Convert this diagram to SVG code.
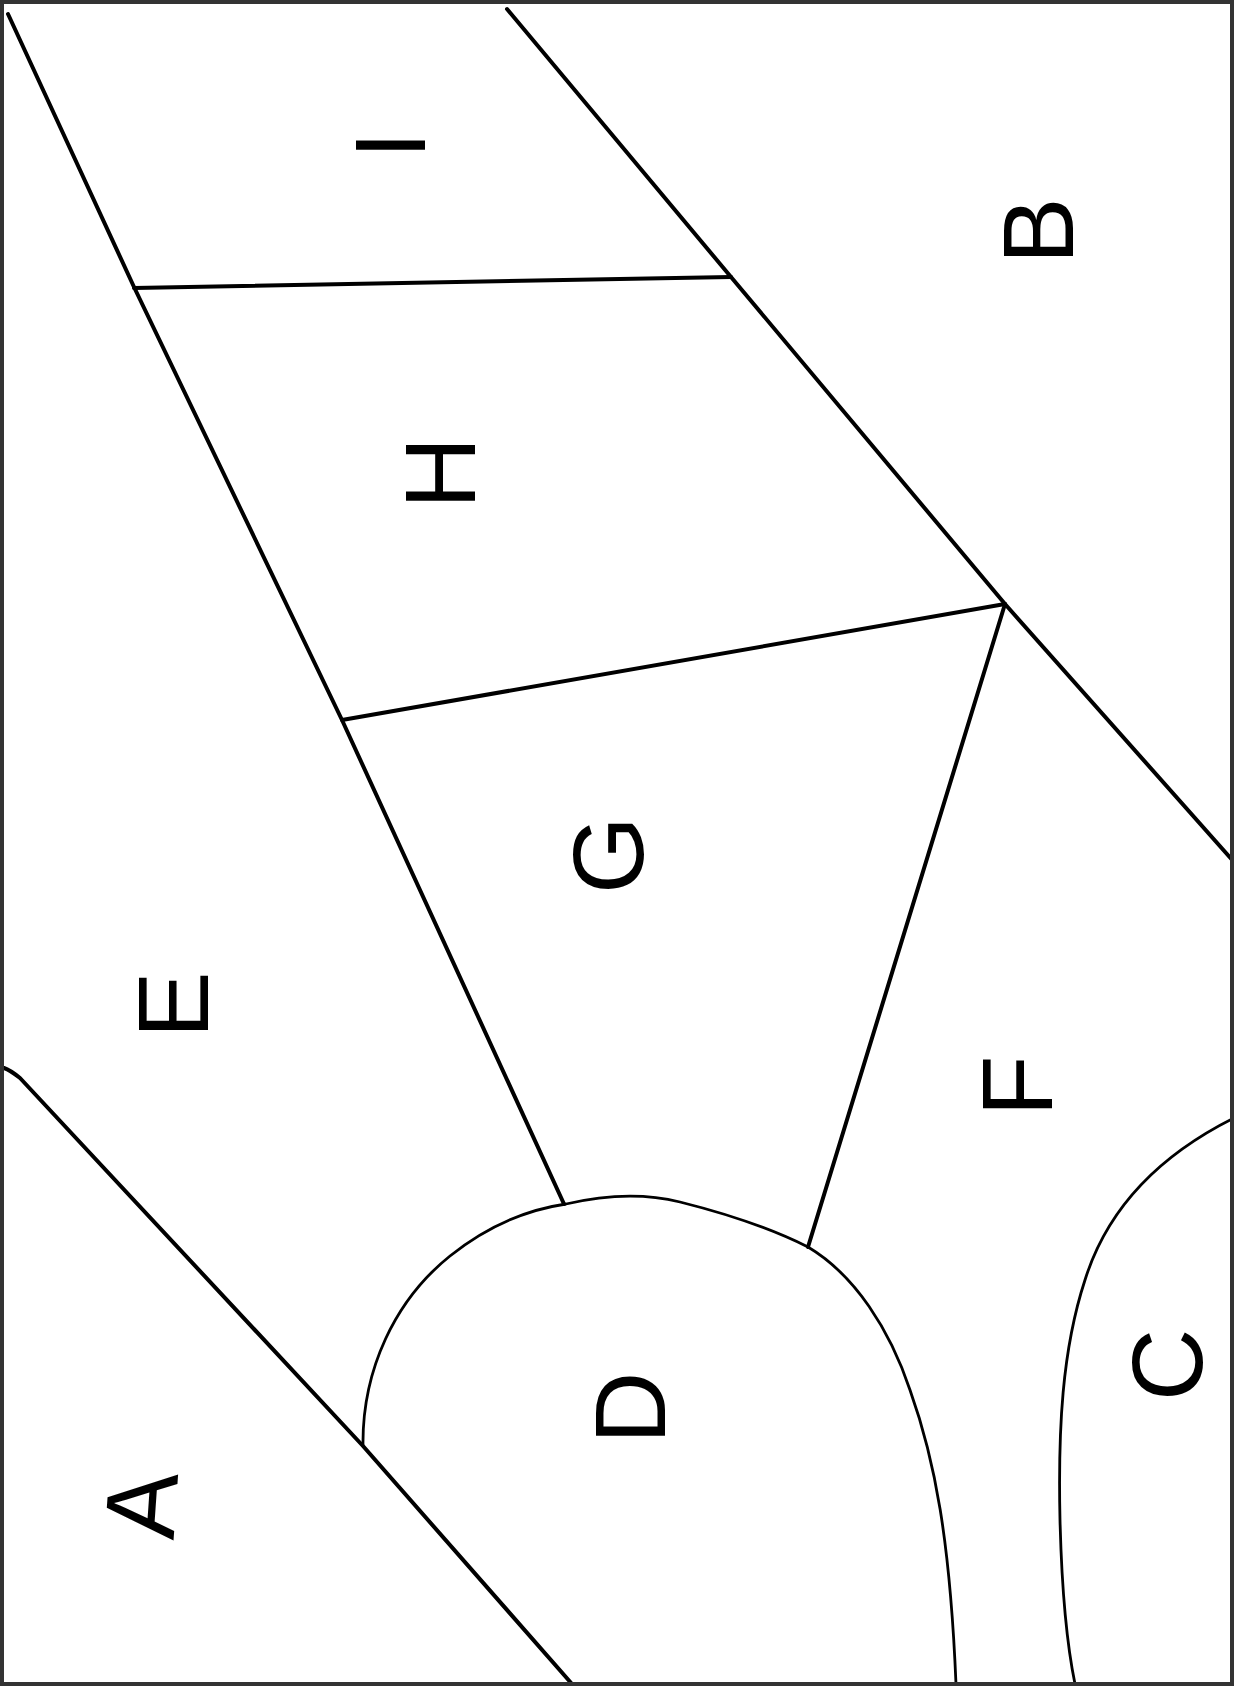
<svg xmlns="http://www.w3.org/2000/svg" width="1234" height="1686" viewBox="0 0 1234 1686">
<style>
.ln{fill:none;stroke:#000;stroke-width:4;stroke-linecap:round;stroke-linejoin:round}
.cv{fill:none;stroke:#000;stroke-width:2.8;stroke-linecap:round}
.lb{font-family:"Liberation Sans",Arial,sans-serif;font-size:100px;fill:#000;text-anchor:middle}
</style>
<rect x="0" y="0" width="1234" height="1686" fill="#fff"/>
<g id="lines">
<path class="ln" d="M8,14 L134,287 L342,720 L564,1204"/>
<path class="ln" d="M507,9 L731,277 L1005,604 L1234,862"/>
<path class="ln" d="M134,288 L731,277"/>
<path class="ln" d="M342,720 L1005,604"/>
<path class="ln" d="M1005,604 L808,1247"/>
<path class="ln" d="M4,1068 Q10,1070 20,1078 L363,1446 L572,1684"/>
<path class="cv" d="M363,1446 C362,1370 395,1300 450,1256 C485,1228 525,1210 566,1204 C600,1196 640,1192 680,1202 C720,1212 770,1228 808,1247 C855,1275 890,1330 910,1390 C935,1460 950,1540 956,1684"/>
<path class="cv" d="M1234,1118 C1170,1150 1110,1200 1085,1280 C1062,1350 1058,1430 1060,1520 C1062,1600 1068,1650 1075,1684"/>
</g>
<rect x="2" y="2" width="1230" height="1682" fill="none" stroke="#333" stroke-width="4"/>
<g id="I"><text class="lb" transform="translate(389,145) rotate(-90)" y="36">I</text></g>
<g id="B"><text class="lb" transform="translate(1037,231) rotate(-90)" y="36">B</text></g>
<g id="H"><text class="lb" transform="translate(439,473) rotate(-90)" y="36">H</text></g>
<g id="G"><text class="lb" transform="translate(607,855) rotate(-90)" y="36">G</text></g>
<g id="E"><text class="lb" transform="translate(172,1005) rotate(-90)" y="36">E</text></g>
<g id="F"><text class="lb" transform="translate(1016,1086) rotate(-90)" y="36">F</text></g>
<g id="D"><text class="lb" transform="translate(629,1408) rotate(-90)" y="36">D</text></g>
<g id="C"><text class="lb" transform="translate(1166,1365) rotate(-90)" y="36">C</text></g>
<g id="A"><text class="lb" transform="translate(140,1505) rotate(-86)" y="36">A</text></g>
</svg>
